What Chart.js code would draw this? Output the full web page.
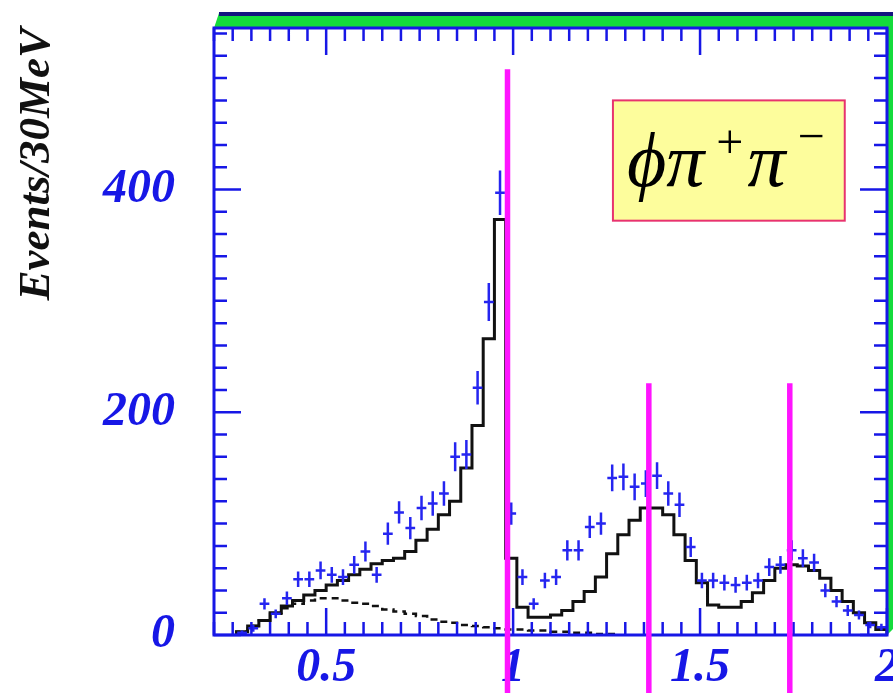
<!DOCTYPE html>
<html>
<head>
<meta charset="utf-8">
<script src="https://cdn.jsdelivr.net/npm/chart.js@4.4.0/dist/chart.umd.min.js"></script>
<style>
  html, body { margin: 0; padding: 0; background: #fff; }
</style>
</head>
<body>
<canvas id="c" width="893" height="693"></canvas>
<script>
// bin centres in GeV, 30 MeV bins
const binCenters = [
  0.275, 0.305, 0.335, 0.365, 0.395, 0.425, 0.455, 0.485, 0.515, 0.545,
  0.575, 0.605, 0.635, 0.665, 0.695, 0.725, 0.755, 0.785, 0.815, 0.845,
  0.875, 0.905, 0.935, 0.965, 0.995, 1.025, 1.055, 1.085, 1.115, 1.145,
  1.175, 1.205, 1.235, 1.265, 1.295, 1.325, 1.355, 1.385, 1.415, 1.445,
  1.475, 1.505, 1.535, 1.565, 1.595, 1.625, 1.655, 1.685, 1.715, 1.745,
  1.775, 1.805, 1.835, 1.865, 1.895, 1.925, 1.955, 1.985
];

// measured events (blue crosses)
const dataCounts = [
  2, 6, 28, 19, 33, 50, 50, 58, 54, 52,
  63, 75, 54, 91, 110, 96, 114, 118, 127, 160,
  162, 222, 299, 397, 109, 52, 28, 49, 52, 76,
  76, 97, 100, 141, 142, 133, 136, 143, 127, 117,
  79, 49, 49, 47, 45, 47, 49, 61, 63, 76,
  69, 65, 40, 30, 22, 18, 9, 7
];
const dataErrors = [
  2, 3, 5, 4, 6, 7, 7, 8, 7, 7,
  8, 9, 7, 10, 10, 10, 11, 11, 11, 13,
  13, 15, 17, 20, 10, 7, 5, 7, 7, 9,
  9, 10, 10, 12, 12, 12, 12, 12, 11, 11,
  9, 7, 7, 7, 7, 7, 7, 8, 8, 9,
  8, 8, 6, 5, 5, 4, 3, 3
];

// fit result (solid histogram)
const fitCounts = [
  3, 8, 13, 20, 26, 31, 36, 40, 45, 49,
  54, 59, 64, 67, 69, 75, 85, 95, 108, 120,
  150, 188, 266, 373, 69, 25, 16, 16, 18, 22,
  30, 39, 52, 73, 90, 103, 114, 114, 108, 90,
  67, 47, 27, 25, 25, 30, 38, 49, 60, 63,
  62, 58, 51, 40, 30, 20, 11, 5
];

// background component (dashed histogram)
const bkgCounts = [
  3, 8, 13, 19, 24, 28, 31, 33, 33, 31,
  29, 28, 26, 23, 21, 19, 17, 14, 12, 11,
  9, 8, 7, 6, 5, 5, 4, 4, 3, 3,
  2, 2, 1, 1
];

const xTickValues = [0.5, 1, 1.5, 2];
const yTickValues = [0, 200, 400];

// mass cuts (magenta lines) and how high they reach
const cutPositions = [0.985, 1.363, 1.74];
const cutTops = [508, 226, 226];

const BLUE = '#1717e6';

// points on the left bin edges; with stepped 'before' each value runs to the next edge
function stepPoints(counts) {
  const half = (binCenters[1] - binCenters[0]) / 2;
  const pts = [{ x: binCenters[0] - half, y: 0 }];
  counts.forEach((v, i) => pts.push({ x: binCenters[i] - half, y: v }));
  const last = counts.length - 1;
  pts.push({ x: binCenters[last] + half, y: counts[last] });
  pts.push({ x: binCenters[last] + half, y: 0 });
  return pts;
}

// kill the label overhang padding so the plot box sits where the original has it
function noPad(s) {
  s.paddingTop = 0;
  s.paddingBottom = 0;
  s.paddingLeft = 0;
  s.paddingRight = 0;
}

const decor = {
  id: 'decor',
  afterDatasetsDraw(chart) {
    const { ctx, chartArea: a, scales: { x, y } } = chart;
    ctx.save();

    // error bars
    ctx.strokeStyle = '#2525f0';
    ctx.lineWidth = 2.5;
    const hw = 0.013;
    dataCounts.forEach((v, i) => {
      const c = binCenters[i], e = dataErrors[i];
      const px = x.getPixelForValue(c);
      ctx.beginPath();
      ctx.moveTo(px, y.getPixelForValue(v - e));
      ctx.lineTo(px, y.getPixelForValue(v + e));
      ctx.moveTo(x.getPixelForValue(c - hw), y.getPixelForValue(v));
      ctx.lineTo(x.getPixelForValue(c + hw), y.getPixelForValue(v));
      ctx.stroke();
    });

    // 3D frame (green top/right band)
    ctx.fillStyle = '#14dc3c';
    ctx.beginPath();
    ctx.moveTo(a.left, a.top);
    ctx.lineTo(a.left + 5, a.top - 15);
    ctx.lineTo(a.right + 6, a.top - 15);
    ctx.lineTo(a.right + 6, a.bottom - 6);
    ctx.lineTo(a.right, a.bottom);
    ctx.lineTo(a.right, a.top);
    ctx.closePath();
    ctx.fill();
    ctx.strokeStyle = '#141480';
    ctx.lineWidth = 4;
    ctx.beginPath();
    ctx.moveTo(a.left + 5, a.top - 14);
    ctx.lineTo(a.right + 6, a.top - 14);
    ctx.stroke();

    // inner ticks
    ctx.strokeStyle = BLUE;
    ctx.lineWidth = 2.5;
    ctx.beginPath();
    for (let k = 0; k <= 36; k++) {
      const v = 0.2 + k * 0.05;
      const major = xTickValues.some(t => Math.abs(t - v) < 1e-6);
      const len = major ? 27 : 13;
      const px = x.getPixelForValue(v);
      ctx.moveTo(px, a.bottom); ctx.lineTo(px, a.bottom - len);
      ctx.moveTo(px, a.top); ctx.lineTo(px, a.top + len);
    }
    for (let k = 0; k <= 27; k++) {
      const v = k * 20;
      const major = yTickValues.includes(v);
      const len = major ? 27 : 13;
      const py = y.getPixelForValue(v);
      ctx.moveTo(a.left, py); ctx.lineTo(a.left + len, py);
      ctx.moveTo(a.right, py); ctx.lineTo(a.right - len, py);
    }
    ctx.stroke();

    ctx.lineWidth = 3;
    ctx.strokeRect(a.left, a.top, a.right - a.left, a.bottom - a.top);
    ctx.restore();
  },
  afterDraw(chart) {
    const { ctx, scales: { x, y } } = chart;
    ctx.save();

    // label box
    const bx0 = x.getPixelForValue(1.267), bx1 = x.getPixelForValue(1.887);
    const by0 = y.getPixelForValue(480), by1 = y.getPixelForValue(372);
    ctx.fillStyle = '#fdfd9c';
    ctx.fillRect(bx0, by0, bx1 - bx0, by1 - by0);
    ctx.strokeStyle = '#e8336e';
    ctx.lineWidth = 2;
    ctx.strokeRect(bx0, by0, bx1 - bx0, by1 - by0);

    ctx.fillStyle = '#000';
    ctx.textBaseline = 'alphabetic';
    ctx.textAlign = 'left';
    const big = 'italic 76px "Liberation Serif"';
    const small = '48px "Liberation Serif"';
    const base = by0 + 86;
    let cx = bx0 + 14;
    ctx.font = big;
    ctx.fillText('\u03d5\u03c0', cx, base);
    cx += ctx.measureText('\u03d5\u03c0').width + 12;
    ctx.font = small;
    ctx.fillText('+', cx, base - 28);
    cx += ctx.measureText('+').width + 4;
    ctx.font = big;
    ctx.fillText('\u03c0', cx, base);
    cx += ctx.measureText('\u03c0').width + 12;
    ctx.font = small;
    ctx.fillText('\u2212', cx, base - 34);

    // cut lines
    ctx.strokeStyle = '#ff14ff';
    ctx.lineWidth = 5.5;
    cutPositions.forEach((c, i) => {
      const px = x.getPixelForValue(c);
      ctx.beginPath();
      ctx.moveTo(px, y.getPixelForValue(cutTops[i]));
      ctx.lineTo(px, chart.height);
      ctx.stroke();
    });
    ctx.restore();
  }
};

const tickFont = { family: 'Liberation Serif', size: 48, style: 'italic', weight: 'bold', lineHeight: 1 };

new Chart(document.getElementById('c'), {
  type: 'line',
  data: {
    datasets: [
      {
        label: 'fit',
        data: stepPoints(fitCounts),
        stepped: 'before',
        borderColor: '#111',
        borderWidth: 3,
        pointRadius: 0,
        fill: false
      },
      {
        label: 'background',
        data: stepPoints(bkgCounts),
        stepped: 'before',
        borderColor: '#111',
        borderWidth: 2.5,
        borderDash: [7, 5],
        pointRadius: 0,
        fill: false
      },
      {
        type: 'scatter',
        label: 'data',
        data: dataCounts.map((v, i) => ({ x: binCenters[i], y: v })),
        pointRadius: 0,
        showLine: false
      }
    ]
  },
  options: {
    responsive: false,
    animation: false,
    layout: { padding: { top: 28, right: 6, left: 0, bottom: 0 }, autoPadding: false },
    plugins: { legend: { display: false }, tooltip: { enabled: false } },
    scales: {
      x: {
        type: 'linear',
        min: 0.2,
        max: 2.0,
        grid: { display: false, drawTicks: false },
        border: { display: false },
        afterBuildTicks: s => { s.ticks = xTickValues.map(v => ({ value: v })); },
        afterFit: s => { s.height = 58; noPad(s); },
        ticks: {
          padding: 10,
          color: BLUE,
          font: tickFont,
          maxRotation: 0,
          autoSkip: false,
          callback: v => String(v)
        }
      },
      y: {
        min: 0,
        max: 545,
        grid: { display: false, drawTicks: false },
        border: { display: false },
        afterBuildTicks: s => { s.ticks = yTickValues.map(v => ({ value: v })); },
        afterFit: s => { s.width = 214; noPad(s); },
        ticks: {
          padding: 39,
          color: BLUE,
          font: tickFont,
          autoSkip: false,
          callback: v => String(v)
        },
        title: {
          display: true,
          text: 'Events/30MeV',
          align: 'end',
          color: '#111',
          font: { family: 'Liberation Serif', size: 45, style: 'italic', weight: 'bold', lineHeight: 1.2 },
          padding: { top: 10, bottom: 0 }
        }
      }
    }
  },
  plugins: [decor]
});
</script>
</body>
</html>
